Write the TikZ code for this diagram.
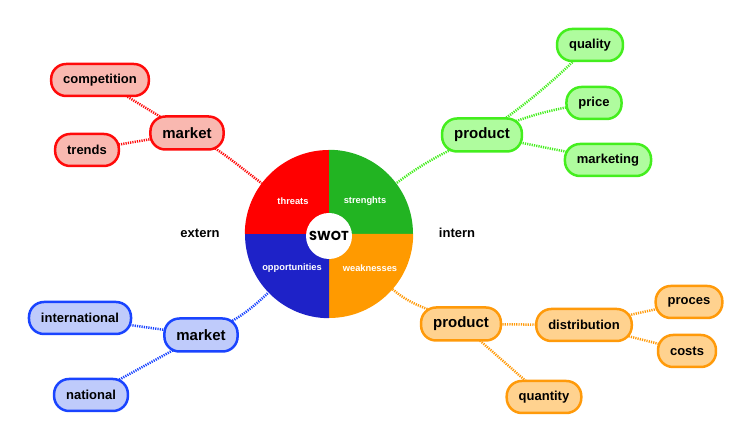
\documentclass[tikz,border=0pt]{standalone}
\usepackage{fontspec}
\setmainfont{Liberation Sans}
\newfontfamily\swotfont{Poppins}
\usetikzlibrary{backgrounds}
\definecolor{rfill}{HTML}{F9B8B0}
\definecolor{rline}{HTML}{FF0A0A}
\definecolor{gfill}{HTML}{AFFC9E}
\definecolor{gline}{HTML}{44EE1E}
\definecolor{bfill}{HTML}{BFCBFB}
\definecolor{bline}{HTML}{1A44FF}
\definecolor{ofill}{HTML}{FFD28F}
\definecolor{oline}{HTML}{FF9A0A}
\definecolor{qred}{HTML}{FF0000}
\definecolor{qgreen}{HTML}{22B422}
\definecolor{qblue}{HTML}{1E22C8}
\definecolor{qorange}{HTML}{FF9A00}
\tikzset{
  box/.style={draw, line width=2.5pt, rounded corners=15pt, minimum height=32pt,
    inner xsep=12pt, inner ysep=0pt, font=\bfseries\fontsize{13}{15}\selectfont, text=black},
  mainbox/.style={box, minimum height=33pt, font=\bfseries\fontsize{15}{17}\selectfont},
  rbox/.style={fill=rfill, draw=rline},
  gbox/.style={fill=gfill, draw=gline},
  bbox/.style={fill=bfill, draw=bline},
  obox/.style={fill=ofill, draw=oline},
  link/.style={line width=2.5pt, dash pattern=on 1.2pt off 1.1pt},
  qlabel/.style={text=white, font=\bfseries\fontsize{9.3}{11}\selectfont},
  side/.style={font=\bfseries\fontsize{13}{15}\selectfont, text=black}
}
\begin{document}
\begin{tikzpicture}[x=1pt,y=1pt]
\useasboundingbox (0,0) rectangle (750,443);
% pie
\node[circle, minimum size=168pt, inner sep=0pt] (pie) at (329,209) {};
\fill[qred] (pie.center) -- (pie.180) arc (180:90:84) -- cycle;
\fill[qgreen] (pie.center) -- (pie.90) arc (90:0:84) -- cycle;
\fill[qorange] (pie.center) -- (pie.0) arc (0:-90:84) -- cycle;
\fill[qblue] (pie.center) -- (pie.270) arc (270:180:84) -- cycle;
\node[circle, fill=white, minimum size=46pt, inner sep=0pt, font=\swotfont\bfseries\fontsize{13}{15}\selectfont] (swot) at (329,207) {SWOT};
\node[qlabel] (threats) at (293,242) {threats};
\node[qlabel] (strengths) at (365,242) {strenghts};
\node[qlabel] (opps) at (292,175) {opportunities};
\node[qlabel] (weak) at (370,175) {weaknesses};
\node[side] (extern) at (200,210) {extern};
\node[side] (intern) at (457,210) {intern};
% red
\node[box, rbox] (rc) at (100,363) {competition};
\node[mainbox, rbox] (rm) at (187,310) {market};
\node[box, rbox] (rt) at (87,293) {trends};
% green
\node[box, gbox] (gq) at (590,398) {quality};
\node[box, gbox] (gpr) at (594,340) {price};
\node[box, gbox] (gm) at (608,283) {marketing};
\node[mainbox, gbox] (gp) at (482,308) {product};
% blue
\node[box, bbox] (bi) at (80,125) {international};
\node[mainbox, bbox] (bm) at (201,108) {market};
\node[box, bbox] (bn) at (91,48) {national};
% orange
\node[mainbox, obox] (op) at (461,119) {product};
\node[box, obox] (od) at (584,118) {distribution};
\node[box, obox] (opr) at (689,141) {proces};
\node[box, obox] (oc) at (687,92) {costs};
\node[box, obox] (oq) at (544,46) {quantity};
\begin{scope}[on background layer]
\draw[link, rline] (rc.center) -- (rm.center);
\draw[link, rline] (rt.center) -- (rm.center);
\draw[link, rline] (rm.center) to[out=-25, in=143] (pie.143);
\draw[link, gline] (gp.center) to[bend right=5] (gq.center);
\draw[link, gline] (gp.center) to[bend left=8] (gpr.center);
\draw[link, gline] (gp.center) -- (gm.center);
\draw[link, gline] (gp.center) to[out=205, in=37] (pie.37);
\draw[link, bline] (bi.center) -- (bm.center);
\draw[link, bline] (bn.center) -- (bm.center);
\draw[link, bline] (bm.center) to[out=20, in=224] (pie.224);
\draw[link, oline] (op.center) -- (od.center);
\draw[link, oline] (od.center) -- (opr.center);
\draw[link, oline] (od.center) -- (oc.center);
\draw[link, oline] (op.center) -- (oq.center);
\draw[link, oline] (op.center) to[out=150, in=319] (pie.319);
\end{scope}
\end{tikzpicture}
\end{document}
